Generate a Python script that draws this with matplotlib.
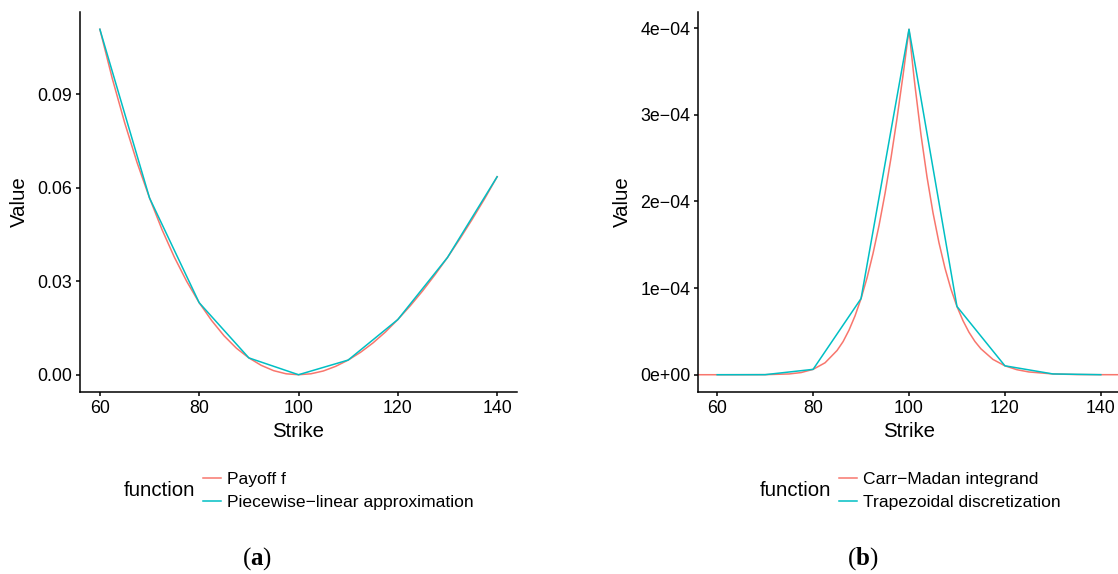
import matplotlib
matplotlib.use('Agg')
from matplotlib import pyplot as plt

plt.rcParams['font.family'] = ['Liberation Sans', 'DejaVu Sans']
plt.rcParams['mathtext.fontset'] = 'custom'
plt.rcParams['mathtext.rm'] = 'Liberation Serif'
plt.rcParams['mathtext.bf'] = 'Liberation Serif:bold'

RED = '#F8766D'
TEAL = '#00BFC4'

# (a) payoff and its piecewise-linear approximation
strike_a = [60, 62.5, 65, 67.5, 70, 72.5, 75, 77.5, 80, 82.5, 85, 87.5, 90, 92.5, 95, 97.5, 100,
            102.5, 105, 107.5, 110, 112.5, 115, 117.5, 120, 122.5, 125, 127.5, 130, 132.5, 135, 137.5, 140]
payoff = [0.1108, 0.0950, 0.0808, 0.0680, 0.0567, 0.0466, 0.0377, 0.0299, 0.0231, 0.0174, 0.0125,
          0.0085, 0.0054, 0.0030, 0.0013, 0.0003, 0.0, 0.0003, 0.0012, 0.0027, 0.0047, 0.0072, 0.0102,
          0.0137, 0.0177, 0.0221, 0.0269, 0.0321, 0.0376, 0.0436, 0.0499, 0.0565, 0.0635]
grid = [60, 70, 80, 90, 100, 110, 120, 130, 140]
piecewise = [0.1108, 0.0567, 0.0231, 0.0054, 0.0, 0.0047, 0.0177, 0.0376, 0.0635]

# (b) Carr-Madan integrand and trapezoidal discretization (values in units of 1e-4)
strike_b = [55, 60, 65, 70, 75, 77.5, 80, 82.5, 85, 86.25, 87.5, 88.75, 90, 91.25, 92.5, 93.75,
            95, 96.25, 97.5, 98.75, 99, 100, 100.5, 101, 101.25, 102.5, 103.75, 105, 106.25, 107.5,
            108.75, 110, 111.25, 112.5, 113.75, 115, 117.5, 120, 122.5, 125, 130, 135, 140, 145]
integrand_e4 = [0, 0, 0.0002, 0.0008, 0.009, 0.025, 0.062, 0.138, 0.280, 0.382, 0.516, 0.680,
                0.879, 1.118, 1.400, 1.723, 2.092, 2.504, 2.959, 3.455, 3.558, 3.988, 3.716, 3.457,
                3.335, 2.770, 2.285, 1.871, 1.524, 1.231, 0.988, 0.788, 0.625, 0.491, 0.384, 0.299,
                0.177, 0.103, 0.058, 0.032, 0.009, 0.002, 0.0005, 0.0001]
trapezoid_e4 = [0, 0.0008, 0.062, 0.879, 3.988, 0.788, 0.103, 0.009, 0.0005]
integrand = [v * 1e-4 for v in integrand_e4]
trapezoid = [v * 1e-4 for v in trapezoid_e4]

xticks = [60, 80, 100, 120, 140]
yticks_a = [0.0, 0.03, 0.06, 0.09]
ytick_labels_a = ['0.00', '0.03', '0.06', '0.09']
yticks_b = [0, 1e-4, 2e-4, 3e-4, 4e-4]
ytick_labels_b = ['0e+00', '1e\u221204', '2e\u221204', '3e\u221204', '4e\u221204']

W, H = 1118, 574
fig = plt.figure(figsize=(W / 100, H / 100), dpi=100)


def style(ax, ylabel):
    for s in ['top', 'right']:
        ax.spines[s].set_visible(False)
    for s in ['left', 'bottom']:
        ax.spines[s].set_linewidth(1.1)
    ax.tick_params(length=3, width=1.1, pad=2.5, labelsize=12.8, colors='black')
    ax.set_xticks(xticks)
    ax.set_xlim(56, 144)
    ax.set_xlabel('Strike', fontsize=14.7, labelpad=4)
    ax.set_ylabel(ylabel, fontsize=14.7, labelpad=6)


ax1 = fig.add_axes([80 / W, 1 - 392 / H, 437 / W, 380 / H])
ax1.plot(strike_a, payoff, color=RED, lw=1.1, label='Payoff f')
ax1.plot(grid, piecewise, color=TEAL, lw=1.1, label='Piecewise\u2212linear approximation')
style(ax1, 'Value')
ax1.set_yticks(yticks_a, ytick_labels_a)
pad = 0.05 * max(payoff)
ax1.set_ylim(-pad, max(payoff) + pad)

ax2 = fig.add_axes([698 / W, 1 - 392 / H, 422 / W, 380 / H])
ax2.plot(strike_b, integrand, color=RED, lw=1.1, label='Carr\u2212Madan integrand')
ax2.plot(grid, trapezoid, color=TEAL, lw=1.1, label='Trapezoidal discretization')
style(ax2, 'Value')
ax2.set_yticks(yticks_b, ytick_labels_b)
pad = 0.05 * max(integrand)
ax2.set_ylim(-pad, max(integrand) + pad)

# legends with the title on the left, as ggplot draws them at the bottom
for ax, title_x, leg_x in [(ax1, 159, 203), (ax2, 795, 839)]:
    fig.text(title_x / W, 1 - 491 / H, 'function', fontsize=14.7, ha='center', va='center')
    ax.legend(loc='center left', bbox_to_anchor=(leg_x / W, 1 - 491 / H),
              bbox_transform=fig.transFigure, frameon=False, fontsize=12.6,
              handlelength=1.0, handletextpad=0.38, labelspacing=0.48, borderpad=0,
              borderaxespad=0)

fig.text(257 / W, 1 - 559 / H, r'$(\mathbf{a})$', fontsize=18, ha='center', va='center')
fig.text(863 / W, 1 - 559 / H, r'$(\mathbf{b})$', fontsize=18, ha='center', va='center')

fig.savefig('out.png', dpi=100)
